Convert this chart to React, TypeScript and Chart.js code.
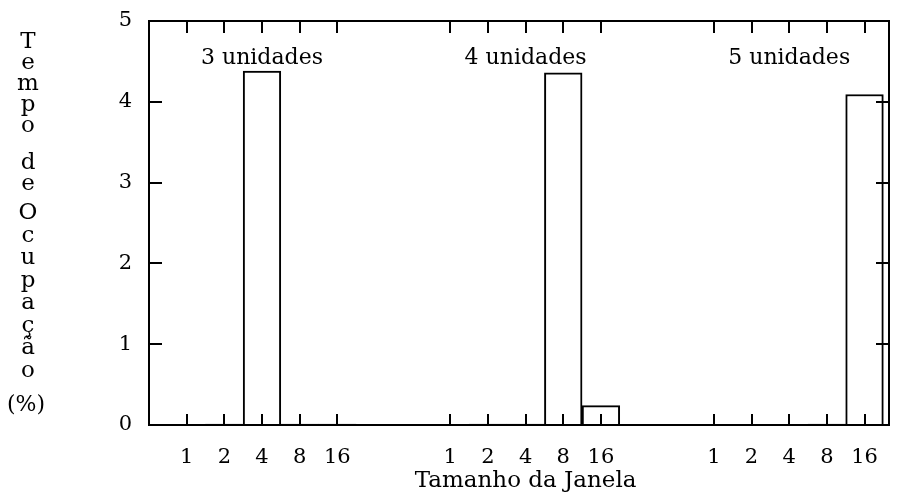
import { useEffect, useRef } from 'react';
import { Chart, registerables } from 'chart.js';

Chart.register(...registerables);

// Window sizes tested inside each group of units
const windowSizes = ['1', '2', '4', '8', '16'];
// One group per number of units
const groupLabels = ['3 unidades', '4 unidades', '5 unidades'];
// Occupation time (%) per window size, one array per group
const units3 = [0, 0.01, 4.38, 0.01, 0.01];
const units4 = [0, 0.01, 0.01, 4.36, 0.24];
const units5 = [0, 0, 0, 0.01, 4.09];
const groupValues = [units3, units4, units5];

const yMin = 0;
const yMax = 5;
const xTitle = 'Tamanho da Janela';
const yTitleWords = ['Tempo', 'de', 'Ocupação'];
const yTitleUnit = '(%)';
// height (in y units) of the baseline of the group captions
const groupLabelValue = 4.47;

// each group takes 5 slots followed by 2 empty slots
const GROUP_STRIDE = 7;
const slotPositions: number[] = [];
const points: { x: number; y: number }[] = [];
groupValues.forEach((vals, g) => {
  vals.forEach((v, i) => {
    const pos = g * GROUP_STRIDE + i;
    slotPositions.push(pos);
    points.push({ x: pos, y: v });
  });
});

const FONT = '"DejaVu Serif", "Liberation Serif", serif';

const frameAndLabels = {
  id: 'frameAndLabels',
  afterDraw(chart: any) {
    const { ctx, chartArea: a, scales } = chart;
    const x = scales.x;
    const y = scales.y;
    ctx.save();
    ctx.strokeStyle = '#000';
    ctx.fillStyle = '#000';
    ctx.lineWidth = 2;
    ctx.strokeRect(a.left, a.top, a.right - a.left, a.bottom - a.top);

    const line = (x1: number, y1: number, x2: number, y2: number) => {
      ctx.beginPath();
      ctx.moveTo(x1, y1);
      ctx.lineTo(x2, y2);
      ctx.stroke();
    };

    // inward tick marks on bottom and top
    x.ticks.forEach((t: any) => {
      const px = Math.round(x.getPixelForValue(t.value));
      line(px, a.bottom, px, a.bottom - 11);
      line(px, a.top, px, a.top + 12);
    });
    // inward tick marks on left and right
    y.ticks.forEach((t: any) => {
      if (t.value === yMin || t.value === yMax) return;
      const py = Math.round(y.getPixelForValue(t.value));
      line(a.left, py, a.left + 13, py);
      line(a.right, py, a.right - 13, py);
    });

    // group captions
    ctx.font = `22px ${FONT}`;
    ctx.textAlign = 'center';
    ctx.textBaseline = 'alphabetic';
    groupLabels.forEach((lbl, g) => {
      const cx = x.getPixelForValue(g * GROUP_STRIDE + 2);
      ctx.fillText(lbl, cx, y.getPixelForValue(groupLabelValue));
    });

    // x axis title, centred under the middle group
    ctx.font = `23px ${FONT}`;
    ctx.fillText(xTitle, x.getPixelForValue(GROUP_STRIDE + 2), a.bottom + 62);

    // y axis title, one letter per line
    ctx.font = `23px ${FONT}`;
    const colX = 28;
    const steps = [21, 21, 22.5];
    const gaps = [16, 8, 12];
    let base = 48;
    yTitleWords.forEach((word, w) => {
      for (const ch of word) {
        ctx.fillText(ch, colX, base);
        base += steps[w];
      }
      base += gaps[w];
    });
    ctx.font = `22px ${FONT}`;
    ctx.fillText(yTitleUnit, colX - 2, base);
    ctx.restore();
  },
};

export default function App() {
  const canvasRef = useRef<HTMLCanvasElement | null>(null);

  useEffect(() => {
    const canvas = canvasRef.current;
    if (!canvas) return;
    const chart = new Chart(canvas, {
      type: 'bar',
      data: {
        datasets: [
          {
            data: points as any,
            backgroundColor: '#ffffff',
            borderColor: '#000000',
            borderWidth: 2,
            borderSkipped: 'start',
            categoryPercentage: 1,
            barPercentage: 1,
          },
        ],
      },
      options: {
        animation: false,
        responsive: false,
        layout: { padding: { top: 21, right: 10, left: 0, bottom: 0 } },
        plugins: {
          legend: { display: false },
          tooltip: { enabled: false },
        },
        scales: {
          x: {
            type: 'linear',
            offset: false,
            min: -1,
            max: 18.65,
            grid: { display: false, drawTicks: false, offset: false },
            border: { display: false },
            afterBuildTicks: (scale: any) => {
              scale.ticks = slotPositions.map((v) => ({ value: v }));
            },
            afterFit: (scale: any) => {
              scale.height = 72;
              scale.paddingLeft = 0;
              scale.paddingRight = 0;
            },
            ticks: {
              autoSkip: false,
              maxRotation: 0,
              padding: 20,
              color: '#000',
              font: { family: FONT, size: 21 },
              callback: (_v: any, index: number) => windowSizes[index % windowSizes.length],
            },
          },
          y: {
            min: yMin,
            max: yMax,
            grid: { display: false, drawTicks: false },
            border: { display: false },
            afterFit: (scale: any) => {
              scale.width = 149;
              scale.paddingTop = 0;
              scale.paddingBottom = 0;
            },
            ticks: {
              stepSize: 1,
              padding: 17,
              color: '#000',
              font: { family: FONT, size: 21 },
            },
          },
        },
      },
      plugins: [frameAndLabels],
    });
    return () => chart.destroy();
  }, []);

  return (
    <div style={{ position: 'absolute', left: 0, top: 0, width: 899, height: 497, background: '#fff' }}>
      <canvas ref={canvasRef} width={899} height={497} style={{ display: 'block' }} />
    </div>
  );
}
